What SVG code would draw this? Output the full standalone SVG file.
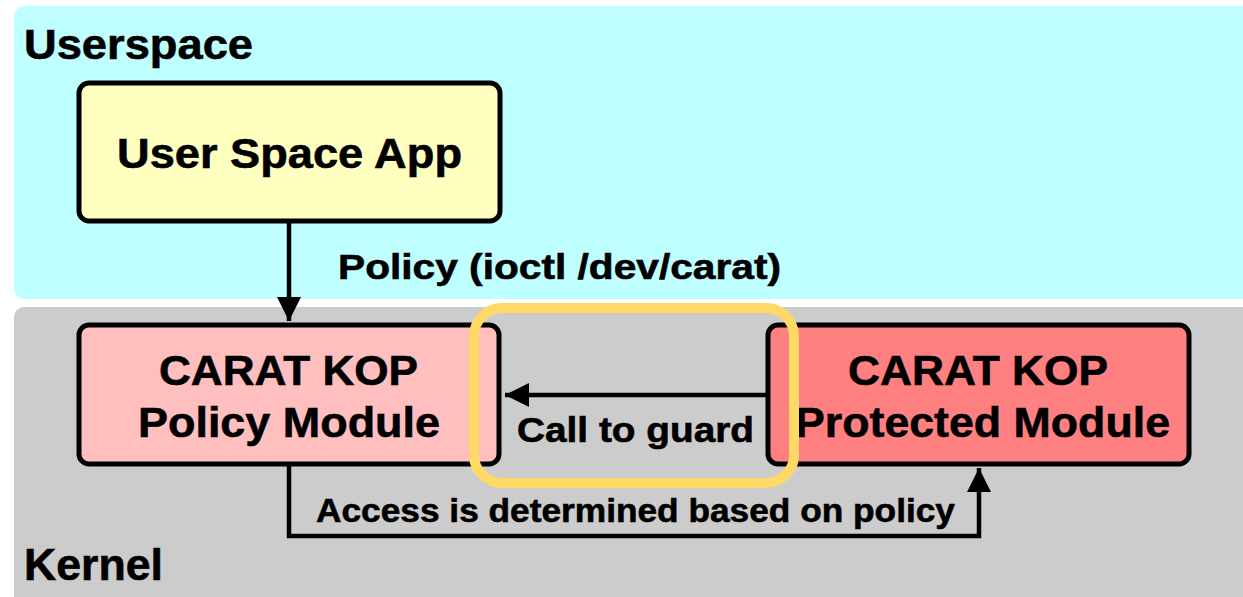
<svg xmlns="http://www.w3.org/2000/svg" width="1243" height="597" viewBox="0 0 1243 597">
<defs>
<style>
text{font-family:"Liberation Sans",Arial,Helvetica,sans-serif;font-weight:bold;fill:#000;stroke:#000;stroke-width:0.6}
.box{stroke:#000;stroke-width:5}
.conn{fill:none;stroke:#000;stroke-width:4.5}
</style>
<marker id="ah" viewBox="0 0 24 24" refX="24" refY="12" markerWidth="24" markerHeight="24" markerUnits="userSpaceOnUse" orient="auto">
<path d="M0,0 L24,12 L0,24 Z" fill="#000"/>
</marker>
</defs>
<rect width="1243" height="597" fill="#fff"/>
<g id="userspace">
<rect x="14" y="6" width="1250" height="293" rx="10" fill="#bfffff"/>
<text x="24" y="59" font-size="43" textLength="229" lengthAdjust="spacingAndGlyphs">Userspace</text>
</g>
<g id="kernel">
<rect x="14" y="307" width="1250" height="300" rx="10" fill="#cccccc"/>
<text x="24" y="580" font-size="44" textLength="139" lengthAdjust="spacingAndGlyphs">Kernel</text>
</g>
<g id="app">
<rect class="box" x="79" y="83" width="421" height="138" rx="10" fill="#ffffc0"/>
<text x="117" y="168" font-size="43" textLength="345" lengthAdjust="spacingAndGlyphs">User Space App</text>
</g>
<g id="policy">
<rect class="box" x="79" y="325" width="420" height="139" rx="10" fill="#ffbfbf"/>
<text x="159" y="385" font-size="43" textLength="259" lengthAdjust="spacingAndGlyphs">CARAT KOP</text>
<text x="138" y="437" font-size="43" textLength="302" lengthAdjust="spacingAndGlyphs">Policy Module</text>
</g>
<g id="protected">
<rect class="box" x="768" y="325" width="421" height="139" rx="10" fill="#ff8080"/>
<text x="848" y="385" font-size="43" textLength="260" lengthAdjust="spacingAndGlyphs">CARAT KOP</text>
<text x="795" y="437" font-size="43" textLength="375" lengthAdjust="spacingAndGlyphs">Protected Module</text>
</g>
<g id="connectors">
<line class="conn" x1="289" y1="221" x2="289" y2="321" marker-end="url(#ah)"/>
<text x="338" y="279" font-size="35" textLength="443" lengthAdjust="spacingAndGlyphs">Policy (ioctl /dev/carat)</text>
<line class="conn" x1="768" y1="395" x2="505" y2="395" marker-end="url(#ah)"/>
<text x="517" y="442" font-size="35" textLength="237" lengthAdjust="spacingAndGlyphs">Call to guard</text>
<polyline class="conn" points="289,464 289,536 979,536 979,468" marker-end="url(#ah)"/>
<text x="316" y="522" font-size="34" textLength="639" lengthAdjust="spacingAndGlyphs">Access is determined based on policy</text>
</g>
<g id="highlight">
<rect x="474" y="308" width="320" height="175" rx="28" fill="none" stroke="#ffd966" stroke-width="10"/>
</g>
</svg>
